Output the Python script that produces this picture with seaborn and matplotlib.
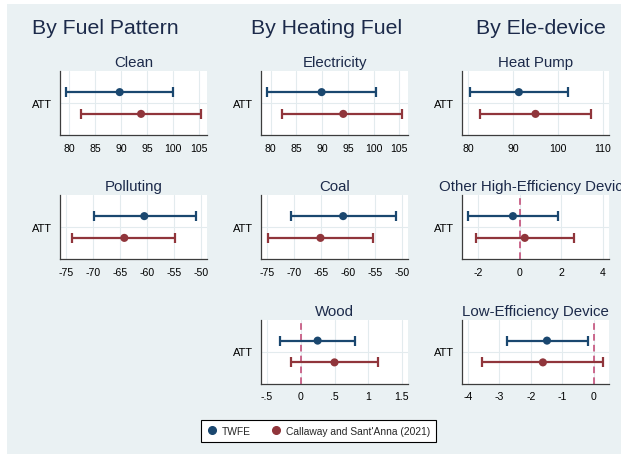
import numpy as np
import pandas as pd
import matplotlib
matplotlib.use("Agg")
import matplotlib.pyplot as plt
from matplotlib.patches import Rectangle
from matplotlib.lines import Line2D
import seaborn as sns

# ---- estimates: point estimate and 95% CI for each outcome ----
methods = ["TWFE", "Callaway and Sant'Anna (2021)"]
panels = ["Clean", "Polluting",
          "Electricity", "Coal", "Wood",
          "Heat Pump", "Other High-Efficiency Device", "Low-Efficiency Device"]

twfe_est = [89.7, -60.5, 89.9, -60.9, 0.25, 91.3, -0.33, -1.49]
twfe_lo = [79.4, -69.9, 79.3, -70.6, -0.31, 80.5, -2.49, -2.77]
twfe_hi = [99.9, -51.0, 100.4, -51.1, 0.81, 102.2, 1.82, -0.18]

cs_est = [93.8, -64.2, 94.1, -65.1, 0.50, 95.0, 0.24, -1.62]
cs_lo = [82.2, -73.8, 82.2, -74.8, -0.15, 82.6, -2.11, -3.55]
cs_hi = [105.3, -54.8, 105.5, -55.3, 1.15, 107.3, 2.62, 0.29]

tick_values = {
    "Clean": [80, 85, 90, 95, 100, 105],
    "Polluting": [-75, -70, -65, -60, -55, -50],
    "Electricity": [80, 85, 90, 95, 100, 105],
    "Coal": [-75, -70, -65, -60, -55, -50],
    "Wood": [-0.5, 0, 0.5, 1, 1.5],
    "Heat Pump": [80, 90, 100, 110],
    "Other High-Efficiency Device": [-2, 0, 2, 4],
    "Low-Efficiency Device": [-4, -3, -2, -1, 0],
}
tick_labels = {
    "Clean": ["80", "85", "90", "95", "100", "105"],
    "Polluting": ["-75", "-70", "-65", "-60", "-55", "-50"],
    "Electricity": ["80", "85", "90", "95", "100", "105"],
    "Coal": ["-75", "-70", "-65", "-60", "-55", "-50"],
    "Wood": ["-.5", "0", ".5", "1", "1.5"],
    "Heat Pump": ["80", "90", "100", "110"],
    "Other High-Efficiency Device": ["-2", "0", "2", "4"],
    "Low-Efficiency Device": ["-4", "-3", "-2", "-1", "0"],
}

column_titles = ["By Fuel Pattern", "By Heating Fuel", "By Ele-device"]
column_panels = [["Clean", "Polluting"],
                 ["Electricity", "Coal", "Wood"],
                 ["Heat Pump", "Other High-Efficiency Device", "Low-Efficiency Device"]]

# ---- tidy table ----
rows = []
for i, p in enumerate(panels):
    rows.append(dict(panel=p, method=methods[0], est=twfe_est[i], lo=twfe_lo[i], hi=twfe_hi[i]))
    rows.append(dict(panel=p, method=methods[1], est=cs_est[i], lo=cs_lo[i], hi=cs_hi[i]))
df = pd.DataFrame(rows)
offsets = {methods[0]: 0.34, methods[1]: -0.34}
df["ypos"] = df["method"].map(offsets)

# ---- style ----
sns.set_theme(style="white")
plt.rcParams["font.family"] = ["Liberation Sans", "DejaVu Sans"]

palette = {methods[0]: "#1a476f", methods[1]: "#90353b"}
bg = "#eaf1f3"
grid_c = "#e3ebee"
axis_c = "#3c3c3c"
title_c = "#1c2a4a"
ref_c = "#c4507a"

W, H = 621, 456
fig = plt.figure(figsize=(W / 100, H / 100), dpi=100, facecolor="white")
fig.patches.append(Rectangle((7 / W, 1 - 455 / H), 1, (455 - 5) / H,
                             transform=fig.transFigure, facecolor=bg,
                             edgecolor="none", zorder=-10))

col_left = [60, 261, 462]
axw = 147
row_top = [72, 196, 320.5]
axh = 64
col_title_x = [105, 327, 541]


def px_axes(x0, top):
    return [x0 / W, 1 - (top + axh) / H, axw / W, axh / H]


for c, plist in enumerate(column_panels):
    fig.text(col_title_x[c] / W, 1 - 28 / H, column_titles[c], ha="center",
             va="center", fontsize=15.3, color=title_c)
    for r, p in enumerate(plist):
        ax = fig.add_axes(px_axes(col_left[c], row_top[r]))
        ax.set_facecolor("white")
        sub = df[df["panel"] == p]

        # x range: data/tick extent plus a small margin
        ticks = tick_values[p]
        lo = min(sub["lo"].min(), min(ticks))
        hi = max(sub["hi"].max(), max(ticks))
        pad = (hi - lo) * 6 / 135
        ax.set_xlim(lo - pad, hi + pad)
        ax.set_ylim(-1, 1)

        ax.set_xticks(ticks)
        ax.set_xticklabels(tick_labels[p])
        ax.set_yticks([0])
        ax.set_yticklabels(["ATT"])
        ax.grid(True, color=grid_c, lw=0.8, zorder=0)
        ax.set_axisbelow(True)

        if lo - pad < 0 < hi + pad:
            ax.axvline(0, color=ref_c, lw=1.2, ls=(0, (4, 2.5)), zorder=1)

        for m in methods:
            s = sub[sub["method"] == m]
            ax.errorbar(s["est"], s["ypos"],
                        xerr=[s["est"] - s["lo"], s["hi"] - s["est"]],
                        fmt="none", ecolor=palette[m], elinewidth=1.6,
                        capsize=3.6, capthick=1.6, zorder=2)
        sns.scatterplot(data=sub, x="est", y="ypos", hue="method",
                        palette=palette, s=34, edgecolor="none",
                        legend=False, ax=ax, zorder=3)
        ax.set_xlabel("")
        ax.set_ylabel("")

        for side in ["top", "right"]:
            ax.spines[side].set_visible(False)
        for side in ["left", "bottom"]:
            ax.spines[side].set_color(axis_c)
            ax.spines[side].set_linewidth(0.9)
        ax.tick_params(axis="both", length=3.5, width=0.8, color=axis_c,
                       labelsize=7.6, pad=2, labelcolor="black")
        ax.tick_params(axis="y", labelsize=8)
        ax.set_title(p, fontsize=10.8, color=title_c, pad=3.5)

handles = [Line2D([], [], marker="o", ls="none", color=palette[m],
                  markersize=5.5) for m in methods]
fig.legend(handles, methods, loc="center",
           bbox_to_anchor=(318.5 / W, 1 - 432 / H), ncol=2,
           frameon=True, fancybox=False, edgecolor="black",
           facecolor="white", fontsize=7.4, handlelength=0.9,
           handletextpad=0.5, columnspacing=2.0, borderpad=0.6,
           framealpha=1).get_frame().set_linewidth(0.8)

fig.savefig("out.png", dpi=100, facecolor="white")
